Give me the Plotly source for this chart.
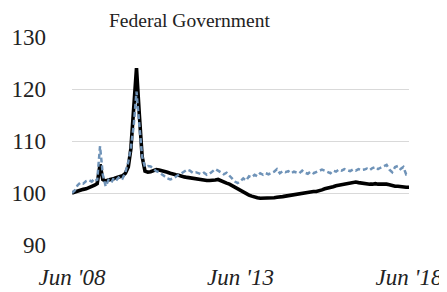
import plotly.graph_objects as go
import pandas as pd

months = pd.date_range("2008-06-01", "2018-06-01", freq="MS")

black_vals = [
    100.0, 100.2, 100.4, 100.5, 100.7, 100.8, 101.0, 101.2, 101.5, 101.8,
    105.5, 102.6, 102.3, 102.5, 102.6, 102.8, 103.0, 103.2, 103.3, 103.8,
    105.0, 108.5, 116.0, 124.0, 115.0, 107.0, 104.2, 104.0, 104.1, 104.3,
    104.5, 104.4, 104.3, 104.1, 104.0, 103.8, 103.6, 103.5, 103.4, 103.2,
    103.1, 103.0, 102.9, 102.8, 102.7, 102.6, 102.5, 102.5, 102.4, 102.4,
    102.4, 102.5, 102.6, 102.3, 102.1, 101.9, 101.7, 101.4, 101.1, 100.8,
    100.4, 100.1, 99.8, 99.6, 99.4, 99.2, 99.1, 99.0, 99.0, 98.95,
    99.0, 99.0, 99.1, 99.2, 99.2, 99.3, 99.4, 99.5, 99.6, 99.7,
    99.8, 99.9, 99.9, 100.0, 100.1, 100.2, 100.3, 100.3, 100.4, 100.6,
    100.8, 100.9, 101.0, 101.2, 101.4, 101.5, 101.7, 101.8, 101.9, 102.0,
    102.0, 102.1, 102.0, 101.9, 101.8, 101.8, 101.7, 101.7, 101.8, 101.7,
    101.7, 101.8, 101.7, 101.6, 101.4, 101.3, 101.3, 101.2, 101.2, 101.1,
    101.1,
]

blue_vals = [
    100.0, 100.5, 101.5, 102.0, 101.8, 102.3, 102.5, 102.2, 102.8, 102.4,
    109.0, 103.5, 101.3, 102.5, 102.0, 103.0, 102.6, 103.2, 102.8, 104.0,
    106.0, 108.7, 113.0, 119.5, 113.0, 107.0, 105.0, 105.2, 105.1, 104.6,
    104.2, 104.0, 103.5, 103.2, 102.8, 102.6, 102.8, 103.2, 103.5, 103.8,
    104.2, 104.5, 104.3, 103.9, 104.0, 103.8, 103.6, 103.9, 103.5, 103.7,
    104.2, 104.6, 104.3, 103.9, 103.6, 103.9, 103.4, 102.8, 102.2, 101.9,
    102.3, 102.8, 102.4, 103.2, 103.0, 103.5, 103.2, 103.8, 103.5, 103.8,
    103.6, 103.9, 104.1, 104.6, 103.8, 104.2, 104.0, 104.2, 103.8, 104.1,
    103.9, 103.8, 104.3, 103.9, 103.7, 104.1, 103.8, 104.0, 104.2, 104.5,
    104.3, 104.0, 103.8, 104.3, 104.1, 104.5, 104.3, 104.6, 104.4, 104.2,
    104.5, 104.3, 104.6, 104.4, 104.5, 104.7, 104.4, 104.8, 105.0, 104.6,
    104.9, 105.1, 105.4, 104.5, 104.0, 105.0, 105.2, 104.6, 105.0, 103.6,
    103.8,
]

x_tickvals = ["2008-06-01", "2013-06-01", "2018-06-01"]
x_ticktext = ["<i>Jun '08</i>", "<i>Jun '13</i>", "<i>Jun '18</i>"]
y_tickvals = [90, 100, 110, 120, 130]
title_text = "Federal Government"

FONT = "Liberation Serif, Times New Roman, serif"

fig = go.Figure()
fig.add_trace(go.Scatter(
    x=months, y=black_vals, mode="lines",
    line=dict(color="#000000", width=3.6),
    showlegend=False, hoverinfo="skip",
))
fig.add_trace(go.Scatter(
    x=months, y=blue_vals, mode="lines",
    line=dict(color="#6f93b8", width=2.5, dash="5px,3px"),
    showlegend=False, hoverinfo="skip",
))

fig.update_layout(
    width=439, height=284,
    margin=dict(l=64, r=38, t=29, b=47, autoexpand=False),
    paper_bgcolor="white", plot_bgcolor="white",
    font=dict(family=FONT, size=19, color="#222222"),
    annotations=[dict(
        text=title_text, xref="paper", yref="paper",
        x=0.104, y=1.08, xanchor="left", yanchor="middle",
        showarrow=False, font=dict(family=FONT, size=19.5, color="#222222"),
    )],
)
fig.update_xaxes(
    type="date", range=["2008-06-01", "2018-06-01"],
    tickvals=x_tickvals, ticktext=x_ticktext,
    tickfont=dict(family=FONT, size=23, color="#222222"),
    showgrid=False, zeroline=False, showline=False, ticks="",
    ticklabelstandoff=16, automargin=False,
)
fig.update_yaxes(
    range=[90, 130], tickvals=y_tickvals,
    showgrid=True, gridcolor="#d9d9d9", gridwidth=1.2,
    zeroline=False, showline=False, ticks="",
    tickfont=dict(family=FONT, size=23, color="#222222"),
    ticklabelstandoff=25, automargin=False,
)

fig.write_html("out.html")
